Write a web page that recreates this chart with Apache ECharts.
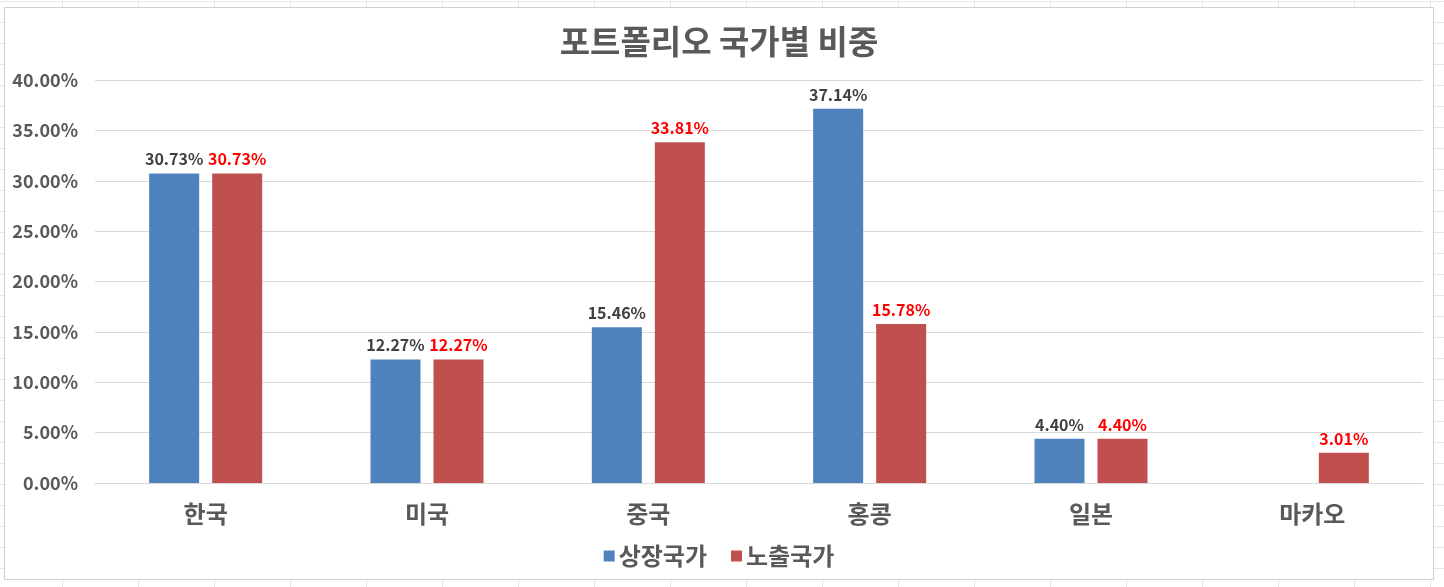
<!DOCTYPE html>
<html>
<head>
<meta charset="utf-8">
<script src="https://cdn.jsdelivr.net/npm/echarts@6/dist/echarts.min.js"></script>
<style>
html,body{margin:0;padding:0;background:#fff;}
body{width:1444px;height:587px;position:relative;overflow:hidden;
background-image:linear-gradient(to right,#e6e6e6 1px,transparent 1px),linear-gradient(to bottom,#e6e6e6 1px,transparent 1px);
background-size:76px 100%,100% 21px;background-position:-14px 0,0 1px;}
#box{position:absolute;left:4px;top:7px;width:1430px;height:573px;border:1px solid #d0d0d0;background:#fff;box-sizing:border-box;}
#chart{width:100%;height:100%;}
</style>
</head>
<body>
<div id="box"><div id="chart"></div></div>
<script>
const titleText = '포트폴리오 국가별 비중';
const categories = ['한국', '미국', '중국', '홍콩', '일본', '마카오'];
const seriesNames = ['상장국가', '노출국가'];
const listedValues = [30.73, 12.27, 15.46, 37.14, 4.40, null];
const exposureValues = [30.73, 12.27, 33.81, 15.78, 4.40, 3.01];
const yTicks = { min: 0, max: 40, interval: 5 };

const FONT = '"Noto Sans CJK KR", "Noto Sans", sans-serif';
const chart = echarts.init(document.getElementById('chart'));
chart.setOption({
  animation: false,
  textStyle: { fontFamily: FONT },
  title: {
    text: titleText, left: 'center', top: 12,
    textStyle: { fontFamily: FONT, fontSize: 33, fontWeight: 'bold', color: '#595959' }
  },
  legend: {
    data: seriesNames, bottom: 6, left: 'center',
    icon: 'rect', itemWidth: 11, itemHeight: 11, itemGap: 24,
    textStyle: { fontFamily: FONT, fontSize: 24, fontWeight: 'bold', color: '#595959', padding: [0, 0, 0, -1] }
  },
  grid: { left: 90, right: 10, top: 72, bottom: 96, containLabel: false },
  xAxis: {
    type: 'category', data: categories,
    axisLine: { lineStyle: { color: '#d9d9d9', width: 1 } },
    axisTick: { show: false },
    axisLabel: { fontFamily: FONT, fontSize: 24, fontWeight: 'bold', color: '#595959', margin: 19 }
  },
  yAxis: {
    type: 'value', min: yTicks.min, max: yTicks.max, interval: yTicks.interval,
    axisLine: { show: false }, axisTick: { show: false },
    splitLine: { lineStyle: { color: '#d9d9d9', width: 1 } },
    axisLabel: { fontFamily: FONT, fontSize: 18, fontWeight: 'bold', color: '#595959', margin: 17,
      formatter: v => v.toFixed(2) + '%' }
  },
  series: [
    {
      name: seriesNames[0], type: 'bar', data: listedValues,
      barWidth: 50, barGap: '26%',
      itemStyle: { color: '#4F81BD' },
      label: { show: true, position: 'top', distance: 6, fontFamily: FONT, fontSize: 16, fontWeight: 'bold', color: '#404040',
        formatter: p => p.value == null ? '' : p.value.toFixed(2) + '%' }
    },
    {
      name: seriesNames[1], type: 'bar', data: exposureValues,
      barWidth: 50, barGap: '26%',
      itemStyle: { color: '#C0504D' },
      label: { show: true, position: 'top', distance: 6, fontFamily: FONT, fontSize: 16, fontWeight: 'bold', color: '#FF0000',
        formatter: p => p.value == null ? '' : p.value.toFixed(2) + '%' }
    }
  ]
});
</script>
</body>
</html>
